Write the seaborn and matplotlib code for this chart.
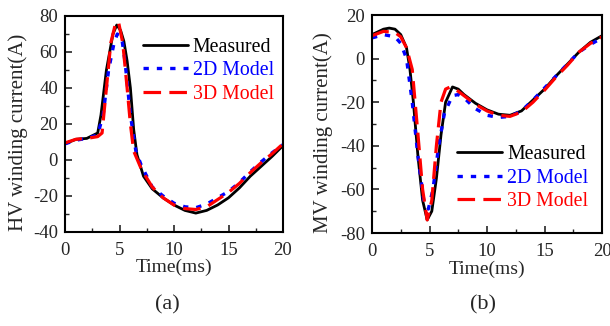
import numpy as np
import pandas as pd
import seaborn as sns
import matplotlib.pyplot as plt
from matplotlib.ticker import MultipleLocator

# ---------------- data (a) HV winding ----------------
t_hv_meas = [0, 1, 2, 3, 3.3, 3.8, 4.4, 4.75, 5.1, 5.4, 5.7, 6, 6.3, 6.6, 7.2, 8, 9, 10, 11, 12, 13, 14, 15, 16, 17, 18, 19, 20]
hv_meas = [9, 11.5, 12, 15, 25, 50, 70, 75, 72, 66, 55, 40, 17, 3, -9, -16, -21, -25, -28, -29.5, -28, -25, -21, -15.5, -9, -3.5, 2, 8]
t_hv_2d = [0, 1, 2, 3, 3.5, 4, 4.5, 4.8, 5.2, 5.5, 6, 6.5, 7, 8, 9, 10, 11, 12, 13, 14, 15, 16, 17, 18, 19, 20]
hv_2d = [9, 11, 12, 14, 25, 50, 65, 70, 68, 55, 25, 5, -3, -15, -20, -24, -26, -26.5, -24.5, -21, -17.5, -12.5, -6.5, -1, 4, 8.5]
t_hv_3d = [0, 1, 2, 3, 3.4, 3.8, 4.2, 4.6, 4.9, 5.3, 5.7, 6.0, 6.3, 7, 8, 9, 10, 11, 12, 13, 14, 15, 16, 17, 18, 19, 20]
hv_3d = [9.5, 11.5, 12, 13, 15, 40, 65, 75, 77, 65, 40, 20, 5, -5, -15, -21, -25, -27, -27.5, -26, -22, -18, -13, -7, -1.5, 3.5, 9]

# ---------------- data (b) MV winding ----------------
t_mv_meas = [0, 1, 1.5, 2, 2.5, 3, 3.3, 3.6, 4, 4.4, 4.8, 5.2, 5.6, 6, 6.4, 7, 7.5, 8, 9, 10, 11, 12, 13, 14, 15, 16, 17, 18, 19, 20]
mv_meas = [11, 13.5, 14, 13.5, 11, 5, -5, -20, -45, -65, -74, -70, -55, -35, -20, -13, -14, -16.5, -20.5, -23.5, -25.5, -26, -24, -19, -14, -8, -2.5, 3, 7.5, 10.5]
t_mv_2d = [0, 1, 2, 2.5, 3, 3.5, 4, 4.5, 4.9, 5.3, 5.8, 6.3, 7, 7.5, 8, 9, 10, 11, 12, 13, 14, 15, 16, 17, 18, 19, 20]
mv_2d = [9.5, 11, 10, 7, 0, -20, -45, -65, -69, -60, -40, -25, -17, -16.5, -18, -23, -26, -27, -26.5, -24, -19, -13.5, -8, -2.5, 3, 6.5, 9.5]
t_mv_3d = [0, 1, 2, 2.5, 3, 3.5, 4, 4.4, 4.8, 5.2, 5.6, 6, 6.4, 6.8, 7.5, 8, 9, 10, 11, 12, 13, 14, 15, 16, 17, 18, 19, 20]
mv_3d = [10.5, 12.5, 12, 10, 5, -5, -35, -60, -74, -65, -40, -20, -14, -13, -15, -17, -21, -24, -26, -26.5, -24.5, -20, -14.5, -8.5, -3, 3, 7, 10]

labels = ["Measured", "2D Model", "3D Model"]
colors = ["black", "blue", "red"]

sns.set_style("ticks")
plt.rcParams['font.family'] = ['Liberation Serif', 'DejaVu Serif']
plt.rcParams['axes.unicode_minus'] = False

fig = plt.figure(figsize=(6.1, 3.26), dpi=100)
ax1 = fig.add_axes([65 / 610, 1 - 232 / 326, 218 / 610, 216 / 326])
ax2 = fig.add_axes([372 / 610, 1 - 233 / 326, 230 / 610, 218 / 326])

styles = [dict(linestyle='-', linewidth=2.0),
          dict(linestyle=(0, (1.6, 2.4)), linewidth=2.4),
          dict(linestyle=(0, (5.5, 2.6)), linewidth=2.3)]


def draw(ax, ts, ys):
    for t, y, lab, c, st in zip(ts, ys, labels, colors, styles):
        df = pd.DataFrame({"t": t, "y": y})
        sns.lineplot(data=df, x="t", y="y", ax=ax, color=c, label=lab, **st)


draw(ax1, [t_hv_meas, t_hv_2d, t_hv_3d], [hv_meas, hv_2d, hv_3d])
draw(ax2, [t_mv_meas, t_mv_2d, t_mv_3d], [mv_meas, mv_2d, mv_3d])

ax1.set_xlim(0, 20)
ax1.set_ylim(-40, 80)
ax2.set_xlim(0, 20)
ax2.set_ylim(-80, 20)

for ax, yl in [(ax1, "HV winding current(A)"), (ax2, "MV winding current(A)")]:
    ax.yaxis.set_major_locator(MultipleLocator(20))
    ax.yaxis.set_minor_locator(MultipleLocator(10))
    ax.xaxis.set_major_locator(MultipleLocator(5))
    ax.xaxis.set_minor_locator(MultipleLocator(2.5))
    ax.tick_params(which='major', direction='in', length=5, width=1.2, labelsize=13.5)
    ax.tick_params(axis='x', which='major', pad=7)
    ax.tick_params(axis='y', which='major', pad=5)
    ax.tick_params(which='minor', direction='in', length=3, width=1.0)
    for s in ax.spines.values():
        s.set_visible(True)
        s.set_linewidth(1.5)
        s.set_color('black')
    ax.set_xlabel("Time(ms)", fontsize=14)
    ax.xaxis.set_label_coords(0.5, -0.125)
    ax.set_ylabel(yl, fontsize=15)
    ax.yaxis.set_label_coords(-0.17, 0.46)

leg_kw = dict(frameon=False, fontsize=14.3, labelcolor='linecolor', handlelength=2.26,
              handletextpad=0.25, labelspacing=0.22, borderpad=0, borderaxespad=0, loc='upper left')
ax1.legend(bbox_to_anchor=(0.358, 0.899), **leg_kw)
ax2.legend(bbox_to_anchor=(0.37, 0.402), **leg_kw)

fig.text(167 / 610, 1 - 305 / 326, "(a)", fontsize=16, ha='center', va='center')
fig.text(483 / 610, 1 - 305 / 326, "(b)", fontsize=16, ha='center', va='center')

fig.savefig("out.png", dpi=100)
